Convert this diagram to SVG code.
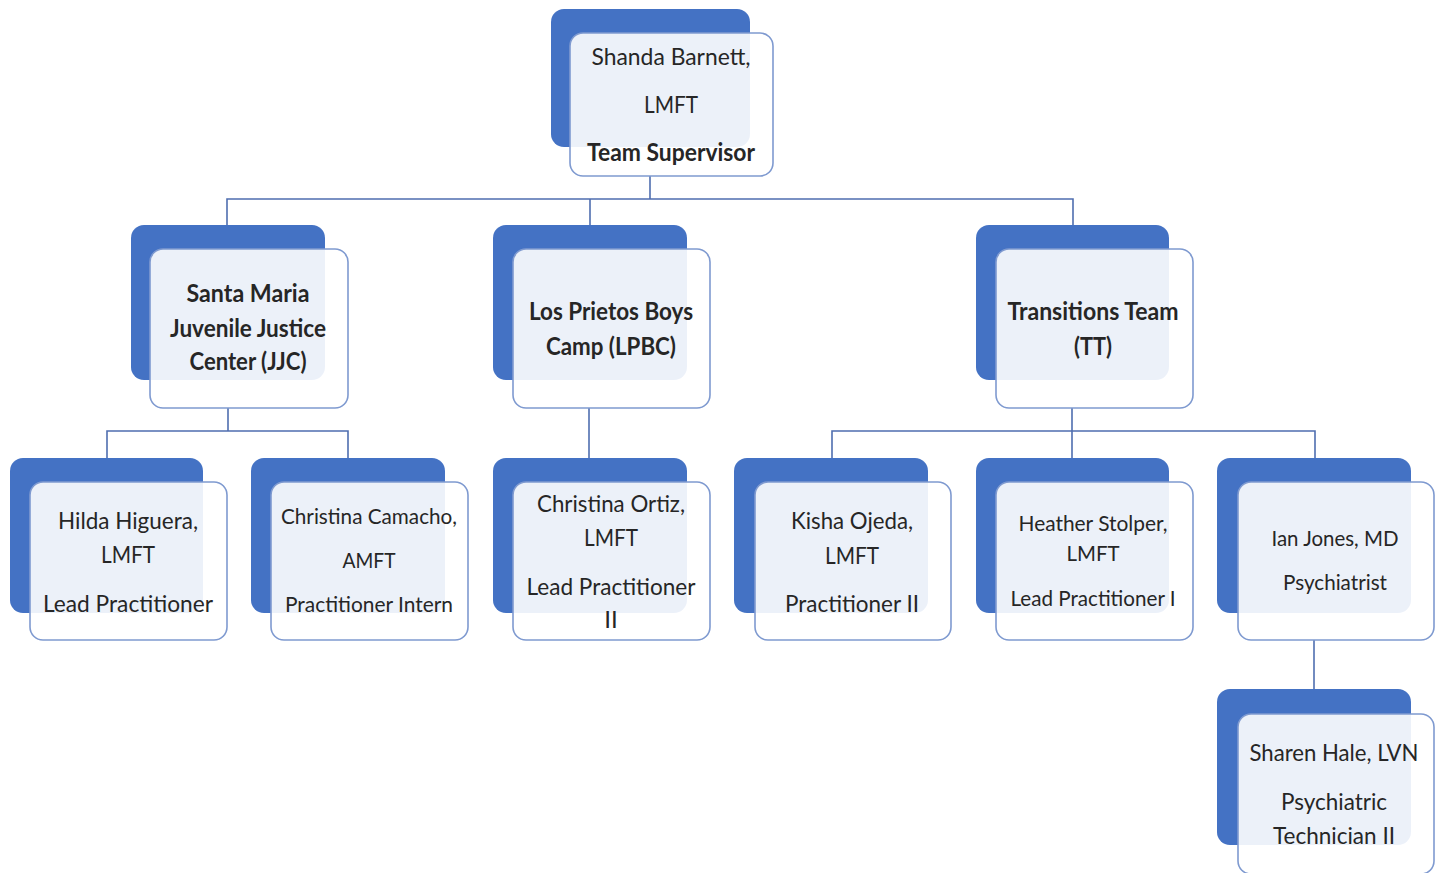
<svg xmlns="http://www.w3.org/2000/svg" width="1442" height="873" viewBox="0 0 1442 873">
<style>
.bg{fill:#4472C4;}
.fr{fill:#ffffff;fill-opacity:0.9;stroke:#7F9AD0;stroke-width:1.6;}
.t{font-family:Lato,"Open Sans","Liberation Sans",sans-serif;font-size:24px;fill:#262626;text-anchor:middle;}
.s{font-size:22px;}
.b{font-weight:bold;}
.c{fill:none;stroke:#4F6EB0;stroke-width:1.6;}
</style>
<rect width="1442" height="873" fill="#ffffff"/>
<g id="connectors">
<path class="c" d="M650 176V199M227 225V199H1073V225M590 199V225"/>
<path class="c" d="M228 408V431M107 458V431H348V458"/>
<path class="c" d="M589 408V458"/>
<path class="c" d="M1072 408V458M832 458V431H1315V458"/>
<path class="c" d="M1314 640V689"/>
</g>
<g id="n-barnett">
<rect class="bg" x="551" y="9" width="199" height="138" rx="13"/>
<rect class="fr" x="570" y="33" width="203" height="143" rx="13"/>
<text class="t" x="671" y="65" textLength="159" lengthAdjust="spacingAndGlyphs">Shanda Barnett,</text>
<text class="t" x="671" y="113" textLength="54" lengthAdjust="spacingAndGlyphs">LMFT</text>
<text class="t b" x="671" y="161" textLength="168" lengthAdjust="spacingAndGlyphs">Team Supervisor</text>
</g>
<g id="n-jjc">
<rect class="bg" x="131" y="225" width="194" height="155" rx="13"/>
<rect class="fr" x="150" y="249" width="198" height="159" rx="13"/>
<text class="t b" x="248" y="302" textLength="123" lengthAdjust="spacingAndGlyphs">Santa Maria</text>
<text class="t b" x="248" y="337" textLength="156" lengthAdjust="spacingAndGlyphs">Juvenile Justice</text>
<text class="t b" x="248" y="370" textLength="117" lengthAdjust="spacingAndGlyphs">Center (JJC)</text>
</g>
<g id="n-lpbc">
<rect class="bg" x="493" y="225" width="194" height="155" rx="13"/>
<rect class="fr" x="513" y="249" width="197" height="159" rx="13"/>
<text class="t b" x="611" y="320" textLength="164" lengthAdjust="spacingAndGlyphs">Los Prietos Boys</text>
<text class="t b" x="611" y="355" textLength="130" lengthAdjust="spacingAndGlyphs">Camp (LPBC)</text>
</g>
<g id="n-tt">
<rect class="bg" x="976" y="225" width="193" height="155" rx="13"/>
<rect class="fr" x="996" y="249" width="197" height="159" rx="13"/>
<text class="t b" x="1093" y="320" textLength="171" lengthAdjust="spacingAndGlyphs">Transitions Team</text>
<text class="t b" x="1093" y="355" textLength="38" lengthAdjust="spacingAndGlyphs">(TT)</text>
</g>
<g id="n-higuera">
<rect class="bg" x="10" y="458" width="193" height="155" rx="13"/>
<rect class="fr" x="30" y="482" width="197" height="158" rx="13"/>
<text class="t" x="128" y="529" textLength="140" lengthAdjust="spacingAndGlyphs">Hilda Higuera,</text>
<text class="t" x="128" y="563" textLength="54" lengthAdjust="spacingAndGlyphs">LMFT</text>
<text class="t" x="128" y="612" textLength="170" lengthAdjust="spacingAndGlyphs">Lead Practitioner</text>
</g>
<g id="n-camacho">
<rect class="bg" x="251" y="458" width="194" height="155" rx="13"/>
<rect class="fr" x="271" y="482" width="197" height="158" rx="13"/>
<text class="t s" x="369" y="524" textLength="176" lengthAdjust="spacingAndGlyphs">Christina Camacho,</text>
<text class="t s" x="369" y="568" textLength="53" lengthAdjust="spacingAndGlyphs">AMFT</text>
<text class="t s" x="369" y="612" textLength="168" lengthAdjust="spacingAndGlyphs">Practitioner Intern</text>
</g>
<g id="n-ortiz">
<rect class="bg" x="493" y="458" width="194" height="155" rx="13"/>
<rect class="fr" x="513" y="482" width="197" height="158" rx="13"/>
<text class="t" x="611" y="512" textLength="148" lengthAdjust="spacingAndGlyphs">Christina Ortiz,</text>
<text class="t" x="611" y="546" textLength="54" lengthAdjust="spacingAndGlyphs">LMFT</text>
<text class="t" x="611" y="595" textLength="169" lengthAdjust="spacingAndGlyphs">Lead Practitioner</text>
<text class="t" x="611" y="628">II</text>
</g>
<g id="n-ojeda">
<rect class="bg" x="734" y="458" width="194" height="155" rx="13"/>
<rect class="fr" x="755" y="482" width="196" height="158" rx="13"/>
<text class="t" x="852" y="529" textLength="122" lengthAdjust="spacingAndGlyphs">Kisha Ojeda,</text>
<text class="t" x="852" y="564" textLength="54" lengthAdjust="spacingAndGlyphs">LMFT</text>
<text class="t" x="852" y="612" textLength="134" lengthAdjust="spacingAndGlyphs">Practitioner II</text>
</g>
<g id="n-stolper">
<rect class="bg" x="976" y="458" width="193" height="155" rx="13"/>
<rect class="fr" x="996" y="482" width="197" height="158" rx="13"/>
<text class="t s" x="1093" y="531" textLength="149" lengthAdjust="spacingAndGlyphs">Heather Stolper,</text>
<text class="t s" x="1093" y="561" textLength="53" lengthAdjust="spacingAndGlyphs">LMFT</text>
<text class="t s" x="1093" y="606" textLength="165" lengthAdjust="spacingAndGlyphs">Lead Practitioner I</text>
</g>
<g id="n-jones">
<rect class="bg" x="1217" y="458" width="194" height="155" rx="13"/>
<rect class="fr" x="1238" y="482" width="196" height="158" rx="13"/>
<text class="t s" x="1335" y="546" textLength="127" lengthAdjust="spacingAndGlyphs">Ian Jones, MD</text>
<text class="t s" x="1335" y="590" textLength="104" lengthAdjust="spacingAndGlyphs">Psychiatrist</text>
</g>
<g id="n-hale">
<rect class="bg" x="1217" y="689" width="194" height="156" rx="13"/>
<rect class="fr" x="1238" y="714" width="196" height="160" rx="13"/>
<text class="t" x="1334" y="761" textLength="169" lengthAdjust="spacingAndGlyphs">Sharen Hale, LVN</text>
<text class="t" x="1334" y="810" textLength="106" lengthAdjust="spacingAndGlyphs">Psychiatric</text>
<text class="t" x="1334" y="844" textLength="122" lengthAdjust="spacingAndGlyphs">Technician II</text>
</g>
</svg>
